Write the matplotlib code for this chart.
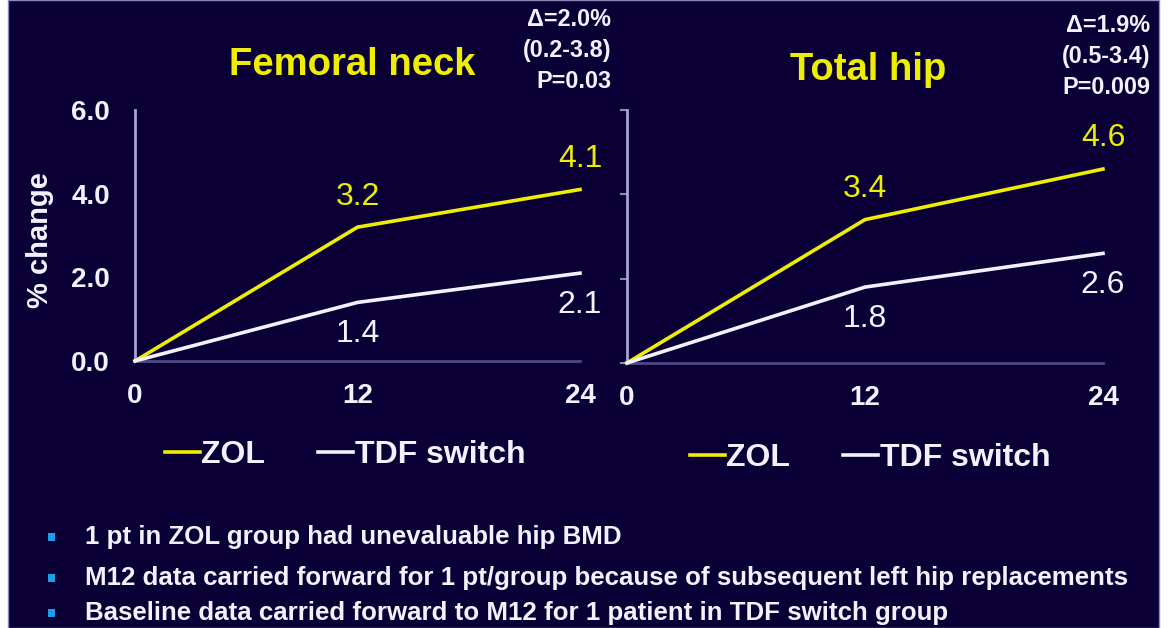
import matplotlib.pyplot as plt
from matplotlib.patches import Rectangle

months = [0, 12, 24]
panels = ["Femoral neck", "Total hip"]
zol = [[0.0, 3.2, 4.1], [0.0, 3.4, 4.6]]
tdf = [[0.0, 1.4, 2.1], [0.0, 1.8, 2.6]]
stats = ["Δ=2.0%\n(0.2-3.8)\nP=0.03", "Δ=1.9%\n(0.5-3.4)\nP=0.009"]
yticks = [0.0, 2.0, 4.0, 6.0]
notes = [
    "1 pt in ZOL group had unevaluable hip BMD",
    "M12 data carried forward for 1 pt/group because of subsequent left hip replacements",
    "Baseline data carried forward to M12 for 1 patient in TDF switch group",
]

BG = "#0a0036"
YEL = "#eeee00"
WHT = "#f2f2ff"
plt.rcParams["font.family"] = ["Liberation Sans", "DejaVu Sans"]

fig = plt.figure(figsize=(11.71, 6.28), dpi=100, facecolor="white")
fig.patches.append(Rectangle((8 / 1171, 0), 1151 / 1171, 1, transform=fig.transFigure,
                             facecolor=BG, edgecolor="#8a86b8", lw=1, zorder=-5))

boxes = [[0.1153, 0.4252, 0.38, 0.3996], [0.5354, 0.4220, 0.4065, 0.4028]]
title_x = [352, 868]
title_y = [65, 70]
stats_x = [611, 1150]
stats_y = [8, 14]
legend_xy = [(345, 455), (870, 458)]

for i, box in enumerate(boxes):
    ax = fig.add_axes(box)
    ax.set_facecolor("none")
    l1, = ax.plot(months, zol[i], color=YEL, lw=2.6, clip_on=False, zorder=3)
    l2, = ax.plot(months, tdf[i], color=WHT, lw=2.6, clip_on=False, zorder=3)
    ax.set_xlim(0, 24)
    ax.set_ylim(0, 6)
    ax.set_xticks(months)
    ax.set_yticks(yticks)
    for s in ["top", "right"]:
        ax.spines[s].set_visible(False)
    ax.spines["left"].set_color("#a8a4d0")
    ax.spines["left"].set_linewidth(2)
    ax.spines["bottom"].set_color("#4e4a86")
    ax.spines["bottom"].set_linewidth(2)
    ax.tick_params(axis="x", length=0, pad=16, labelsize=20, labelcolor=WHT)
    if i == 0:
        ax.set_yticklabels([f"{v:.1f}" for v in yticks])
        ax.tick_params(axis="y", length=0, pad=18, labelsize=20, labelcolor=WHT)
    else:
        ax.tick_params(axis="y", length=5, width=1.5, color="#8e8ab8", labelleft=False)
    for lab in ax.get_xticklabels() + ax.get_yticklabels():
        lab.set_fontweight("bold")

    for x, y in zip(months[1:], zol[i][1:]):
        ax.annotate(f"{y:.1f}", (x, y), xytext=(0, 22), textcoords="offset points",
                    ha="center", va="center", color=YEL, fontsize=23)
    for x, y in zip(months[1:], tdf[i][1:]):
        ax.annotate(f"{y:.1f}", (x, y), xytext=(0, -23), textcoords="offset points",
                    ha="center", va="center", color=WHT, fontsize=23)

    fig.text(title_x[i] / 1171, 1 - title_y[i] / 628, panels[i], color=YEL,
             fontsize=27.5, fontweight="bold", ha="center", va="center")
    fig.text(stats_x[i] / 1171, 1 - stats_y[i] / 628, stats[i], color=WHT,
             fontsize=16.8, fontweight="bold", ha="right", va="top", linespacing=1.45)

    lx, ly = legend_xy[i]
    leg = fig.legend([l1, l2], ["ZOL", "TDF switch"], loc="center",
                     bbox_to_anchor=(lx / 1171, 1 - ly / 628), ncol=2, frameon=False,
                     handlelength=1.1, handletextpad=0.05, columnspacing=1.65,
                     prop={"size": 23, "weight": "bold"})
    for t in leg.get_texts():
        t.set_color(WHT)

fig.text(40 / 1171, 1 - 240 / 628, "% change", rotation=90, color=WHT,
         fontsize=21, fontweight="bold", ha="center", va="center")

for y, note in zip([537, 578, 613], notes):
    fig.patches.append(Rectangle((48 / 1171, 1 - (y + 4) / 628), 7 / 1171, 8 / 628,
                                 transform=fig.transFigure, facecolor="#19a0e6", zorder=1))
    fig.text(85 / 1171, 1 - y / 628, note, color=WHT, fontsize=18.6,
             fontweight="bold", ha="left", va="center")

fig.savefig("out.png", dpi=100, facecolor=fig.get_facecolor())
